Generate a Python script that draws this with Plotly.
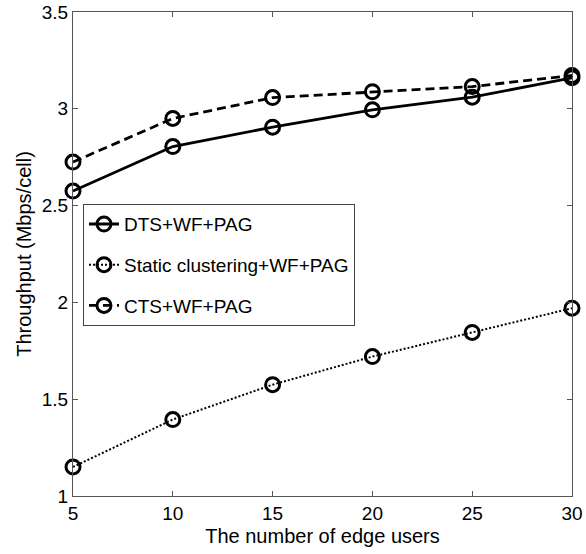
import plotly.graph_objects as go

# Number of edge users per cell
edge_users = [5, 10, 15, 20, 25, 30]

# Cell throughput (Mbps/cell) for each scheme
dts_wf_pag = [2.575, 2.805, 2.905, 2.995, 3.06, 3.16]
static_wf_pag = [1.15, 1.395, 1.575, 1.72, 1.845, 1.97]
cts_wf_pag = [2.725, 2.95, 3.058, 3.088, 3.115, 3.172]

series = [
    ("DTS+WF+PAG", dts_wf_pag, "solid", 2.8),
    ("Static clustering+WF+PAG", static_wf_pag, "2px,2px", 2.0),
    ("CTS+WF+PAG", cts_wf_pag, "9px,5px", 2.8),
]

fig = go.Figure()
for i, (name, vals, dash, lw) in enumerate(series):
    fig.add_trace(go.Scatter(
        x=edge_users, y=vals, name=name, mode="lines+markers",
        legendgroup=f"g{i}",
        line=dict(color="black", width=lw, dash=dash),
        marker=dict(symbol="circle-open", size=14, color="black",
                    line=dict(width=3, color="black")),
        cliponaxis=False,
    ))

axis_common = dict(
    showgrid=False, zeroline=False, showline=True, linecolor="#555555",
    linewidth=1, mirror="ticks", ticks="inside", ticklen=5,
    tickcolor="#555555", tickfont=dict(size=19, color="black"),
    automargin=False,
)

fig.update_xaxes(
    range=[5, 30], tickvals=[5, 10, 15, 20, 25, 30],
    title=dict(text="The number of edge users", font=dict(size=20, color="black"),
               standoff=6),
    **axis_common,
)
fig.update_yaxes(
    range=[1, 3.5], tickvals=[1, 1.5, 2, 2.5, 3, 3.5],
    title=dict(text="Throughput (Mbps/cell)", font=dict(size=20, color="black"),
               standoff=4),
    **axis_common,
)

fig.update_layout(
    width=586, height=554,
    margin=dict(l=73, r=14, t=12, b=58),
    paper_bgcolor="white", plot_bgcolor="white",
    font=dict(family="Liberation Sans, Arial, sans-serif", color="black"),
    legend=dict(
        x=0.02, y=0.603, xanchor="left", yanchor="top",
        bgcolor="white", bordercolor="#444444", borderwidth=1,
        font=dict(size=19, color="black"),
        tracegroupgap=13, itemwidth=30,
    ),
    showlegend=True,
)

fig.write_html("out.html")
